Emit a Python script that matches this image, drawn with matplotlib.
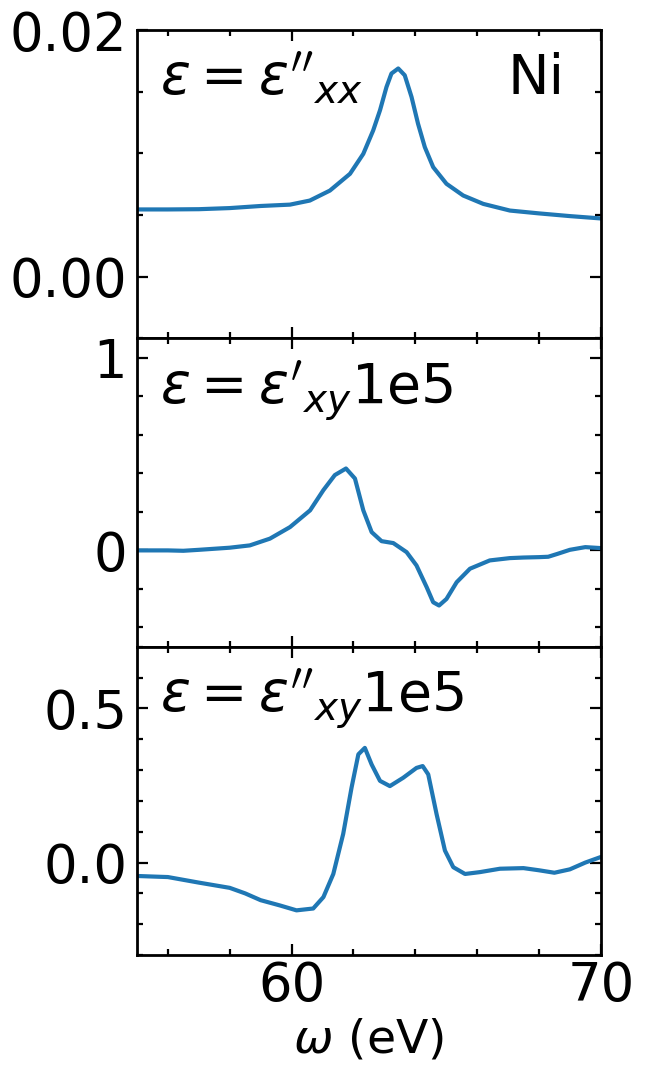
import numpy as np
import matplotlib
matplotlib.use("Agg")
import matplotlib.pyplot as plt
from matplotlib.ticker import MultipleLocator

# energy grid (eV) and spectra
x_xx = [55, 56, 57, 58, 59, 59.95, 60.59, 61.24, 61.89, 62.32, 62.64, 62.86,
        63.07, 63.23, 63.45, 63.66, 63.88, 64.09, 64.31, 64.58, 65.01, 65.55,
        66.2, 67.06, 68, 69, 70]
eps_xx_im = [0.00546, 0.00546, 0.00548, 0.00557, 0.00574, 0.00585, 0.00618,
             0.00699, 0.00835, 0.00997, 0.01187, 0.0135, 0.01539, 0.01648,
             0.01689, 0.01634, 0.01458, 0.01241, 0.01051, 0.00889, 0.00754,
             0.00659, 0.00591, 0.00537, 0.00514, 0.00492, 0.00473]

x_xy_re = [55, 56, 56.5, 57, 58, 58.65, 59.3, 59.95, 60.6, 61.03, 61.4, 61.76,
           62.05, 62.32, 62.59, 62.91, 63.29, 63.72, 64.04, 64.37, 64.58,
           64.77, 65.01, 65.34, 65.77, 66.41, 67.06, 67.5, 68, 68.3, 68.6, 69,
           69.5, 70]
eps_xy_re = [0.0, 0.0, -0.002, 0.003, 0.014, 0.026, 0.061, 0.121, 0.208,
             0.313, 0.391, 0.425, 0.373, 0.208, 0.095, 0.048, 0.038, -0.009,
             -0.078, -0.191, -0.269, -0.286, -0.252, -0.165, -0.095, -0.052,
             -0.04, -0.037, -0.035, -0.033, -0.018, 0.003, 0.017, 0.012]

x_xy_im = [55, 55.7, 56, 57, 58, 58.5, 59, 59.62, 60.16, 60.7, 61.03, 61.35,
           61.67, 61.94, 62.16, 62.37, 62.59, 62.86, 63.18, 63.61, 64.04,
           64.24, 64.42, 64.69, 64.96, 65.23, 65.61, 66.09, 66.74, 67.5, 68,
           68.5, 69, 69.5, 70]
eps_xy_im = [-0.0435, -0.046, -0.047, -0.065, -0.082, -0.1, -0.122, -0.139,
             -0.155, -0.149, -0.112, -0.037, 0.093, 0.243, 0.351, 0.372,
             0.318, 0.265, 0.248, 0.275, 0.307, 0.313, 0.286, 0.157, 0.039,
             -0.015, -0.037, -0.031, -0.020, -0.018, -0.025, -0.033, -0.022,
             0.0, 0.018]

labels = [r"$\epsilon = \epsilon''_{xx}$",
          r"$\epsilon = \epsilon'_{xy}$1e5",
          r"$\epsilon = \epsilon''_{xy}$1e5"]

fig, axes = plt.subplots(3, 1, figsize=(6.46, 10.76), dpi=100, sharex=True)
fig.subplots_adjust(left=0.212, right=0.930, top=0.972, bottom=0.1124, hspace=0)

series = [(x_xx, eps_xx_im), (x_xy_re, eps_xy_re), (x_xy_im, eps_xy_im)]
ylims = [(-0.005, 0.02), (-0.5, 1.1), (-0.3, 0.7)]
majors = [0.02, 1, 0.5]
minors = [0.005, 0.2, 0.1]

for ax, (xs, ys), lab, yl, mj, mn in zip(axes, series, labels, ylims, majors, minors):
    ax.plot(xs, ys, color="#1f77b4", lw=3.0, solid_joinstyle="round")
    ax.set_xlim(55, 70)
    ax.set_ylim(*yl)
    ax.xaxis.set_major_locator(MultipleLocator(10))
    ax.xaxis.set_minor_locator(MultipleLocator(2))
    ax.yaxis.set_major_locator(MultipleLocator(mj))
    ax.yaxis.set_minor_locator(MultipleLocator(mn))
    ax.tick_params(which="both", direction="in", top=True, right=True,
                   labelsize=38, width=1.6)
    ax.tick_params(axis="y", pad=7)
    ax.tick_params(which="major", length=8)
    ax.tick_params(which="minor", length=4)
    for sp in ax.spines.values():
        sp.set_linewidth(2)
    ax.text(0.05, 0.935, lab, transform=ax.transAxes, fontsize=40,
            ha="left", va="top")

axes[0].yaxis.set_major_formatter(plt.FormatStrFormatter("%.2f"))
axes[2].yaxis.set_major_formatter(plt.FormatStrFormatter("%.1f"))
axes[0].text(0.922, 0.928, "Ni", transform=axes[0].transAxes, fontsize=40,
             ha="right", va="top")
axes[2].set_xlabel(r"$\omega$ (eV)", fontsize=34, labelpad=4)

fig.savefig("out.png", dpi=100)
